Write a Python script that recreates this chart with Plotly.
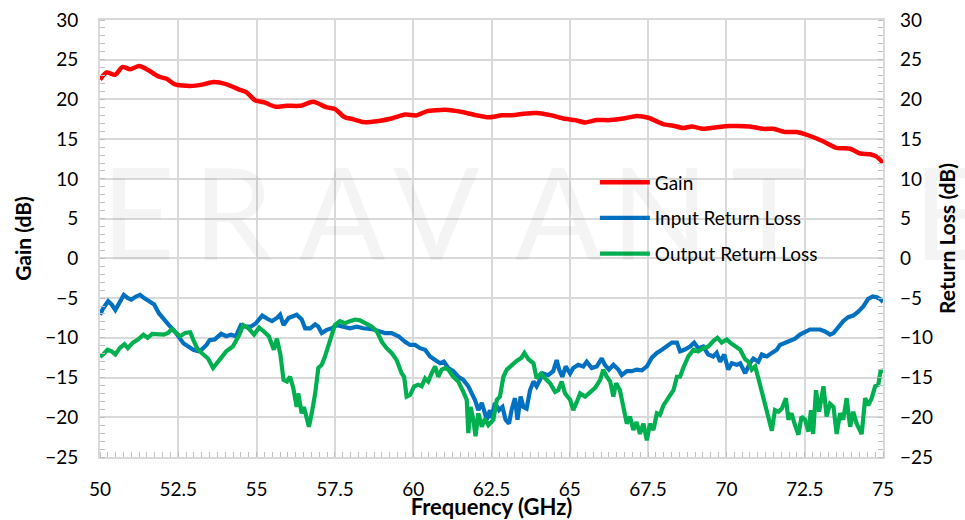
import plotly.graph_objects as go

# ---------------- data ----------------
gain_freq = [50.0, 50.21, 50.48, 50.72, 50.96, 51.25, 51.54, 51.86, 52.13, 52.39, 52.87, 53.3, 53.62,
             54.05, 54.47, 54.68, 54.95, 55.27, 55.59, 55.96, 56.39, 56.81, 57.24, 57.5, 57.8, 58.09,
             58.41, 58.9, 59.31, 59.74, 60.11, 60.43, 61.02, 61.6, 62.03, 62.4, 62.83, 63.25, 63.52,
             63.94, 64.42, 64.79, 65.17, 65.49, 65.86, 66.28, 66.71, 67.08, 67.51, 67.98, 68.3, 68.62,
             68.89, 69.26, 69.69, 70.11, 70.75, 71.18, 71.5, 71.87, 72.25, 72.67, 73.1, 73.52, 73.95,
             74.27, 74.59, 74.8, 75.0]
gain_db = [22.5, 23.4, 23.1, 24.1, 23.8, 24.2, 23.7, 22.9, 22.6, 21.9, 21.7, 21.9, 22.2,
           21.9, 21.2, 20.9, 19.9, 19.6, 19.1, 19.2, 19.2, 19.7, 19.0, 18.8, 17.8, 17.5,
           17.15, 17.3, 17.6, 18.1, 18.0, 18.5, 18.7, 18.4, 18.0, 17.75, 18.0, 18.05, 18.2,
           18.3, 18.0, 17.6, 17.4, 17.1, 17.4, 17.4, 17.6, 17.9, 17.7, 16.9, 16.7, 16.4,
           16.6, 16.3, 16.5, 16.65, 16.6, 16.3, 16.3, 15.9, 15.9, 15.4, 14.7, 13.9, 13.8,
           13.2, 13.1, 12.8, 12.0]

irl_freq = [50.0, 50.1, 50.26, 50.37, 50.49, 50.63, 50.76, 50.89, 51.0, 51.15, 51.28, 51.41, 51.57,
            51.73, 51.88, 52.04, 52.2, 52.35, 52.51, 52.67, 52.82, 52.98, 53.14, 53.24, 53.4, 53.5,
            53.66, 53.77, 53.87, 54.03, 54.18, 54.34, 54.5, 54.66, 54.81, 54.97, 55.18, 55.34, 55.49,
            55.65, 55.75, 55.86, 56.02, 56.28, 56.44, 56.55, 56.71, 56.87, 56.97, 57.08, 57.24, 57.4,
            57.56, 57.77, 57.98, 58.2, 58.41, 58.68, 58.89, 59.1, 59.31, 59.53, 59.74, 59.9, 60.06,
            60.22, 60.38, 60.54, 60.7, 60.86, 60.98, 61.12, 61.28, 61.44, 61.6, 61.76, 61.87, 61.97,
            62.08, 62.19, 62.35, 62.45, 62.5, 62.61, 62.74, 62.85, 62.95, 63.06, 63.14, 63.25, 63.33,
            63.43, 63.52, 63.62, 63.73, 63.84, 63.94, 64.05, 64.15, 64.31, 64.47, 64.58, 64.66, 64.76,
            64.87, 65.01, 65.11, 65.27, 65.43, 65.54, 65.7, 65.86, 66.02, 66.12, 66.25, 66.39, 66.55,
            66.66, 66.82, 66.98, 67.13, 67.3, 67.46, 67.62, 67.78, 67.94, 68.1, 68.26, 68.42, 68.52,
            68.66, 68.84, 68.97, 69.1, 69.26, 69.42, 69.58, 69.69, 69.8, 69.93, 70.06, 70.17, 70.33,
            70.44, 70.6, 70.75, 70.86, 71.02, 71.13, 71.29, 71.45, 71.61, 71.71, 71.87, 72.03, 72.19,
            72.35, 72.51, 72.67, 72.83, 72.99, 73.15, 73.31, 73.42, 73.57, 73.73, 73.89, 74.05, 74.21,
            74.37, 74.53, 74.67, 74.8, 74.9, 75.0]
irl_db = [-7.1, -6.3, -5.4, -5.8, -6.5, -5.6, -4.6, -5.0, -5.2, -4.8, -4.6, -5.0, -5.4,
          -5.8, -6.9, -7.7, -8.4, -9.0, -9.8, -10.7, -11.1, -11.5, -11.7, -11.5, -10.9, -10.3,
          -10.2, -9.8, -9.5, -9.8, -9.6, -9.8, -8.4, -8.6, -8.6, -8.2, -7.2, -7.6, -7.9,
          -7.5, -7.1, -8.4, -7.5, -7.1, -7.7, -8.8, -8.8, -8.3, -8.6, -9.4, -9.0, -8.8,
          -8.4, -8.6, -8.8, -8.6, -8.8, -8.9, -9.2, -9.4, -9.4, -9.8, -10.5, -10.9, -10.9,
          -11.3, -11.5, -12.35, -12.8, -13.2, -13.0, -13.8, -14.2, -14.9, -15.3, -16.1, -17.0, -17.8,
          -19.1, -18.2, -20.3, -19.1, -20.1, -18.2, -19.1, -18.7, -20.3, -20.8, -19.1, -17.6, -20.3,
          -17.4, -18.7, -18.9, -16.6, -15.5, -16.1, -15.3, -14.5, -14.7, -14.2, -12.8, -14.0, -14.9,
          -13.6, -14.5, -13.8, -13.4, -13.6, -13.0, -13.8, -13.6, -12.6, -13.4, -14.0, -13.4, -14.0,
          -14.7, -14.2, -14.2, -14.0, -14.1, -13.6, -12.5, -11.9, -11.5, -11.0, -10.6, -10.6, -11.7,
          -11.5, -11.1, -10.6, -11.3, -11.1, -12.1, -12.35, -11.9, -13.0, -12.1, -14.0, -13.2, -13.4,
          -13.2, -14.45, -13.2, -12.6, -13.0, -12.1, -12.35, -11.9, -11.5, -10.9, -10.6, -10.4, -10.1,
          -9.6, -9.3, -8.95, -8.95, -8.95, -9.2, -9.6, -9.4, -8.6, -7.9, -7.4, -7.2, -6.7,
          -6.05, -5.1, -4.8, -4.9, -5.1, -5.5]

orl_freq = [50.0, 50.1, 50.24, 50.37, 50.49, 50.63, 50.78, 50.89, 51.05, 51.2, 51.39, 51.52, 51.67,
            51.83, 52.04, 52.17, 52.3, 52.44, 52.56, 52.72, 52.88, 52.98, 53.11, 53.3, 53.45, 53.61,
            53.73, 53.87, 54.03, 54.24, 54.45, 54.57, 54.74, 54.92, 55.08, 55.23, 55.39, 55.55, 55.65,
            55.76, 55.86, 55.97, 56.07, 56.17, 56.28, 56.33, 56.44, 56.51, 56.6, 56.67, 56.76, 56.87,
            56.97, 57.08, 57.18, 57.29, 57.4, 57.5, 57.66, 57.82, 57.98, 58.14, 58.3, 58.46, 58.68,
            58.84, 59.0, 59.15, 59.31, 59.47, 59.63, 59.71, 59.79, 59.9, 60.03, 60.16, 60.27, 60.38,
            60.48, 60.59, 60.7, 60.8, 60.91, 61.02, 61.12, 61.28, 61.44, 61.6, 61.71, 61.76, 61.83,
            61.92, 61.99, 62.08, 62.19, 62.29, 62.4, 62.56, 62.67, 62.77, 62.88, 62.99, 63.14, 63.3,
            63.46, 63.55, 63.68, 63.84, 63.94, 64.08, 64.21, 64.37, 64.53, 64.63, 64.74, 64.85, 65.01,
            65.11, 65.22, 65.33, 65.49, 65.65, 65.81, 65.97, 66.07, 66.18, 66.29, 66.39, 66.48, 66.6,
            66.71, 66.82, 66.92, 67.03, 67.13, 67.24, 67.35, 67.46, 67.56, 67.67, 67.78, 67.88, 67.99,
            68.1, 68.2, 68.31, 68.42, 68.52, 68.63, 68.79, 68.95, 69.1, 69.26, 69.42, 69.58, 69.71,
            69.85, 70.01, 70.12, 70.28, 70.44, 70.6, 70.7, 70.81, 70.92, 71.02, 71.13, 71.24, 71.34,
            71.45, 71.55, 71.66, 71.77, 71.9, 71.98, 72.08, 72.19, 72.3, 72.4, 72.51, 72.62, 72.7,
            72.77, 72.86, 72.96, 73.1, 73.2, 73.31, 73.42, 73.52, 73.63, 73.73, 73.84, 73.95, 74.05,
            74.16, 74.32, 74.43, 74.53, 74.64, 74.75, 74.85, 74.93, 74.99]
orl_db = [-12.4, -12.1, -11.5, -11.7, -12.1, -11.3, -10.8, -11.3, -10.6, -10.25, -9.6, -10.0, -9.5,
          -9.5, -9.6, -9.4, -8.9, -9.4, -9.8, -9.4, -9.3, -10.25, -11.4, -12.1, -12.6, -13.8,
          -13.2, -12.6, -11.7, -11.1, -9.6, -8.4, -8.8, -9.6, -8.7, -9.2, -9.8, -11.5, -10.1,
          -12.1, -15.3, -15.5, -14.9, -16.3, -18.7, -17.0, -19.5, -18.7, -20.3, -21.2, -19.5, -17.0,
          -13.8, -13.4, -12.4, -10.9, -9.4, -8.4, -7.9, -8.15, -7.9, -7.7, -7.8, -8.15, -8.6,
          -9.2, -10.5, -11.3, -11.9, -12.8, -14.45, -14.9, -17.4, -17.2, -16.1, -15.9, -16.1, -15.1,
          -15.5, -14.45, -13.6, -14.9, -14.0, -13.8, -14.0, -14.9, -15.5, -16.8, -17.8, -22.0, -18.7,
          -20.3, -22.4, -19.5, -21.2, -20.2, -21.0, -20.3, -17.8, -17.4, -14.9, -14.0, -13.4, -12.9,
          -12.5, -11.9, -12.7, -13.2, -15.1, -14.5, -15.1, -15.7, -16.8, -16.6, -15.5, -17.0, -17.8,
          -19.1, -18.1, -17.0, -17.4, -16.8, -16.3, -15.3, -14.0, -14.9, -15.5, -17.4, -15.7, -16.6,
          -18.7, -20.8, -19.9, -21.6, -20.6, -22.1, -20.8, -22.9, -20.8, -21.6, -19.5, -19.7, -18.5,
          -17.8, -17.4, -16.6, -14.9, -14.9, -13.7, -12.3, -11.5, -11.7, -11.3, -11.1, -10.4, -10.0,
          -10.6, -10.2, -10.6, -11.1, -11.5, -12.7, -13.0, -14.0, -13.6, -15.1, -16.8, -18.3, -19.75,
          -21.7, -19.1, -19.3, -18.9, -17.6, -20.3, -19.5, -21.0, -22.2, -19.9, -20.3, -21.8, -19.1,
          -22.1, -16.6, -19.3, -16.1, -19.9, -18.3, -18.7, -22.1, -19.5, -20.3, -17.6, -21.2, -19.3,
          -20.8, -22.1, -17.6, -18.5, -17.6, -16.1, -15.9, -14.0, -14.45]

x_ticks = [50, 52.5, 55, 57.5, 60, 62.5, 65, 67.5, 70, 72.5, 75]
y_ticks = [-25, -20, -15, -10, -5, 0, 5, 10, 15, 20, 25, 30]
series_names = ["Gain", "Input Return Loss", "Output Return Loss"]
series_colors = ["#FF0000", "#0070C0", "#00B050"]
watermark_letters = ["E", "R", "A", "V", "A", "N", "T", "E"]

# ---------------- figure ----------------
FONT = "Lato, Carlito, 'Open Sans', sans-serif"
GRID = "#d9d9d9"

fig = go.Figure()
fig.add_trace(go.Scatter(x=gain_freq, y=gain_db, name=series_names[0], mode="lines", legendgroup="g",
                         line=dict(color=series_colors[0], width=4.5, shape="spline", smoothing=0.6),
                         hoverinfo="skip"))
fig.add_trace(go.Scatter(x=irl_freq, y=irl_db, name=series_names[1], mode="lines", yaxis="y2",
                         legendgroup="i", line=dict(color=series_colors[1], width=4.2), hoverinfo="skip"))
fig.add_trace(go.Scatter(x=orl_freq, y=orl_db, name=series_names[2], mode="lines", yaxis="y2",
                         legendgroup="o", line=dict(color=series_colors[2], width=4.2), hoverinfo="skip"))

axis_common = dict(
    showgrid=True, gridcolor=GRID, gridwidth=2,
    showline=True, linecolor=GRID, linewidth=2,
    zeroline=False, ticks="", automargin=False,
    tickfont=dict(family=FONT, size=19, color="#000000"),
)

fig.update_layout(
    width=965, height=520,
    margin=dict(l=100, r=82, t=20, b=63),
    paper_bgcolor="white", plot_bgcolor="white",
    font=dict(family=FONT, color="#000000"),
    showlegend=True,
    legend=dict(x=0.632, y=0.672, xanchor="left", yanchor="top",
                bgcolor="rgba(0,0,0,0)", borderwidth=0,
                font=dict(family=FONT, size=19, color="#000000"),
                tracegroupgap=8, itemwidth=50),
    xaxis=dict(
        **axis_common,
        range=[50, 75], tickvals=x_ticks, ticktext=[f"{v:g}" for v in x_ticks],
        mirror=True, ticklabelstandoff=14,
        minor=dict(dtick=0.25, ticks="inside", ticklen=5, tickcolor="#bfbfbf", showgrid=False),
        title=dict(text="<b>Frequency (GHz)</b>", font=dict(family=FONT, size=22), standoff=6),
    ),
    yaxis=dict(
        **axis_common,
        range=[-25, 30], tickvals=y_ticks, mirror=True, ticklabelstandoff=16,
        minor=dict(dtick=1, ticks="inside", ticklen=5, tickcolor="#bfbfbf", showgrid=False),
        title=dict(text="<b>Gain (dB)</b>", font=dict(family=FONT, size=21), standoff=8),
    ),
    yaxis2=dict(
        showgrid=False, showline=False, zeroline=False, automargin=False,
        overlaying="y", side="right", range=[-25, 30], tickvals=y_ticks,
        tickfont=dict(family=FONT, size=19, color="#000000"), ticklabelstandoff=16,
        minor=dict(dtick=1, ticks="inside", ticklen=5, tickcolor="#bfbfbf"),
        title=dict(text="<b>Return Loss (dB)</b>", font=dict(family=FONT, size=21), standoff=8),
    ),
)

# faint brand watermark behind the plot
wm_x = [0.048, 0.17, 0.31, 0.43, 0.585, 0.715, 0.855, 1.085]
for letter, xp in zip(watermark_letters, wm_x):
    fig.add_annotation(text=letter, xref="paper", yref="paper", x=xp, y=0.565,
                       xanchor="center", yanchor="middle", showarrow=False,
                       font=dict(family=FONT, size=128, color="rgba(0,0,0,0.045)"))

fig.write_html("out.html")
